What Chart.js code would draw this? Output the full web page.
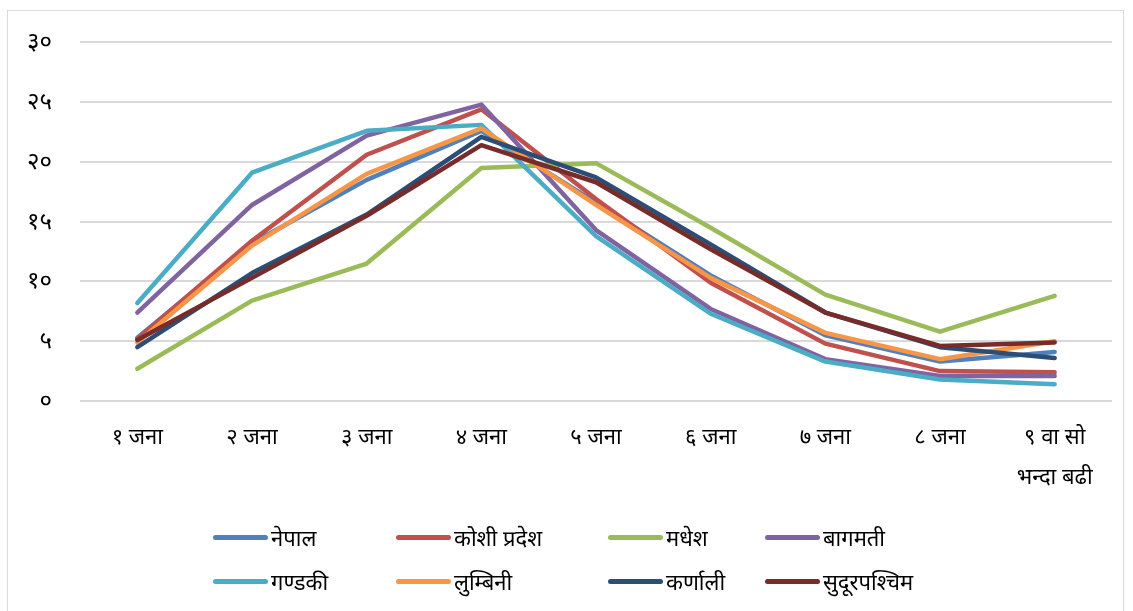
<!DOCTYPE html>
<html>
<head>
<meta charset="utf-8">
<script src="https://cdn.jsdelivr.net/npm/chart.js@4/dist/chart.umd.min.js"></script>
<style>
  body { margin: 0; background: #fff; font-family: 'Noto Sans', 'DejaVu Sans', sans-serif; }
  #wrap { position: relative; width: 1133px; height: 611px; }
  #frame { position: absolute; left: 7px; top: 10px; width: 1115px; height: 610px; border: 1px solid #d9d9d9; }
  canvas { position: absolute; left: 0; top: 0; }
  #legend { position: absolute; left: 213px; top: 522px; display: grid;
    grid-template-columns: 183px 212px 157px 200px; row-gap: 14px; }
  .item { display: flex; align-items: center; font-size: 22px; color: #000; height: 30px; }
  .swatch { width: 55px; height: 5px; border-radius: 3px; margin-right: 3px; }
</style>
</head>
<body>
<div id="wrap">
  <div id="frame"></div>
  <canvas id="chart" width="1133" height="611"></canvas>
  <div id="legend"></div>
</div>
<script>
// categories (household size)
const categories = ['१ जना', '२ जना', '३ जना', '४ जना', '५ जना', '६ जना', '७ जना', '८ जना', ['९ वा सो', 'भन्दा बढी']];
const yTicks = [0, 5, 10, 15, 20, 25, 30];

// series values, percent
const nepal        = [5.3, 13.2, 18.5, 22.6, 16.6, 10.5, 5.5, 3.3, 4.1];
const koshi        = [5.2, 13.4, 20.6, 24.4, 16.9, 9.9, 4.8, 2.5, 2.4];
const madhesh      = [2.7, 8.4, 11.5, 19.5, 19.9, 14.5, 8.9, 5.8, 8.8];
const bagmati      = [7.4, 16.4, 22.2, 24.8, 14.3, 7.7, 3.5, 2.1, 2.1];
const gandaki      = [8.2, 19.1, 22.6, 23.1, 13.8, 7.3, 3.3, 1.8, 1.4];
const lumbini      = [4.9, 13.0, 19.0, 22.8, 16.4, 10.3, 5.7, 3.5, 5.0];
const karnali      = [4.5, 10.7, 15.6, 22.1, 18.7, 13.1, 7.4, 4.5, 3.6];
const sudurpaschim = [5.1, 10.3, 15.5, 21.4, 18.3, 12.7, 7.4, 4.6, 4.9];

const seriesNames  = ['नेपाल', 'कोशी प्रदेश', 'मधेश', 'बागमती', 'गण्डकी', 'लुम्बिनी', 'कर्णाली', 'सुदूरपश्चिम'];
const seriesData   = [nepal, koshi, madhesh, bagmati, gandaki, lumbini, karnali, sudurpaschim];
const seriesColors = ['#4F81BD', '#C0504D', '#9BBB59', '#8064A2', '#4BACC6', '#F79646', '#2C4D75', '#772C2A'];

const devDigits = '०१२३४५६७८९';
function toDev(n) {
  return String(n).replace(/[0-9]/g, d => devDigits[d]);
}

const datasets = seriesNames.map((name, i) => ({
  label: name,
  data: seriesData[i],
  borderColor: seriesColors[i],
  backgroundColor: seriesColors[i],
  borderWidth: 4.5,
  borderCapStyle: 'round',
  borderJoinStyle: 'round',
  pointRadius: 0,
  tension: 0,
  // later series on top, like the original
  order: seriesNames.length - i
}));

const chart = new Chart(document.getElementById('chart'), {
  type: 'line',
  data: { labels: categories, datasets: datasets },
  options: {
    responsive: false,
    animation: false,
    layout: { padding: { left: 10, right: 21, top: 36, bottom: 110 } },
    plugins: {
      legend: { display: false },
      tooltip: { enabled: false }
    },
    scales: {
      x: {
        offset: true,
        grid: { display: false, drawTicks: false },
        border: { display: false },
        ticks: {
          color: '#000',
          padding: 17,
          maxRotation: 0,
          autoSkip: false,
          font: { family: "'Noto Sans', 'DejaVu Sans', sans-serif", size: 22, lineHeight: 1.8 }
        },
        afterFit: s => { s.height = 100; }
      },
      y: {
        min: 0,
        max: 30,
        afterBuildTicks: s => { s.ticks = yTicks.map(v => ({ value: v })); },
        grid: { color: '#d9d9d9', lineWidth: 2, drawTicks: false },
        border: { display: false },
        ticks: {
          color: '#000',
          padding: 28,
          callback: v => toDev(v),
          font: { family: "'Noto Sans', 'DejaVu Sans', sans-serif", size: 24 }
        },
        afterFit: s => { s.width = 70; }
      }
    }
  }
});

// legend laid out in columns like the original
const legendEl = document.getElementById('legend');
chart.data.datasets.forEach(ds => {
  const item = document.createElement('div');
  item.className = 'item';
  const sw = document.createElement('span');
  sw.className = 'swatch';
  sw.style.background = ds.borderColor;
  const txt = document.createElement('span');
  txt.textContent = ds.label;
  item.appendChild(sw);
  item.appendChild(txt);
  legendEl.appendChild(item);
});
</script>
</body>
</html>
